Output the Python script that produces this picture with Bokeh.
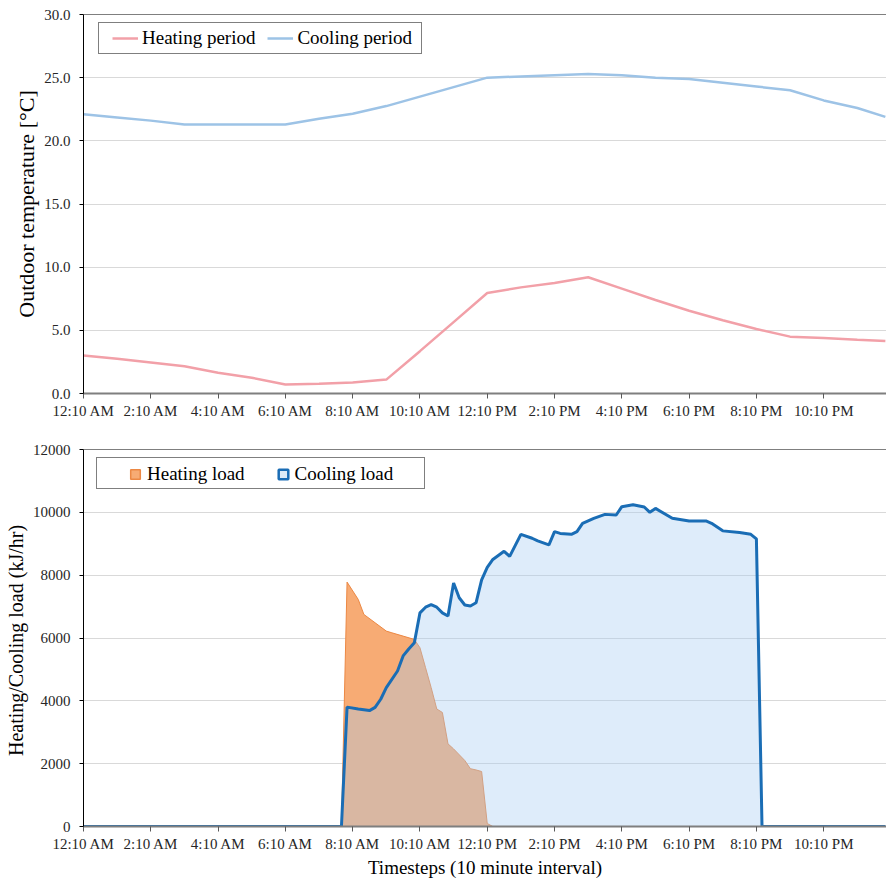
from bokeh.plotting import figure
from bokeh.layouts import column
from bokeh.models import (FixedTicker, NumeralTickFormatter, Legend, LegendItem,
                          Span, Range1d)
from bokeh.embed import file_html
from bokeh.resources import INLINE

# ---------------- data ----------------
tick_steps = [0, 12, 24, 36, 48, 60, 72, 84, 96, 108, 120, 132]
tick_labels = ["12:10 AM", "2:10 AM", "4:10 AM", "6:10 AM", "8:10 AM", "10:10 AM",
               "12:10 PM", "2:10 PM", "4:10 PM", "6:10 PM", "8:10 PM", "10:10 PM"]

temp_steps = [0, 6, 12, 18, 24, 30, 36, 42, 48, 54, 60, 66, 72, 78, 84, 90, 96,
              102, 108, 114, 120, 126, 132, 138, 143]
heating_period = [3.0, 2.75, 2.45, 2.15, 1.65, 1.25, 0.72, 0.78, 0.88, 1.1, 3.35,
                  5.65, 7.95, 8.4, 8.75, 9.2, 8.3, 7.4, 6.55, 5.8, 5.1, 4.5, 4.4,
                  4.25, 4.15]
cooling_period = [22.1, 21.85, 21.6, 21.3, 21.3, 21.3, 21.3, 21.75, 22.15, 22.75,
                  23.5, 24.25, 25.0, 25.1, 25.2, 25.3, 25.2, 25.0, 24.9, 24.6,
                  24.3, 24.0, 23.2, 22.6, 21.9]

cool_steps = [0, 46, 47, 49, 51, 52, 53, 54, 56, 57, 58, 59, 60, 61, 62, 63, 64,
              65, 66, 67, 68, 69, 70, 71, 72, 73, 75, 76, 78, 80, 81, 83, 84, 85,
              87, 88, 89, 91, 93, 95, 96, 98, 100, 101, 102, 105, 108, 111, 112,
              114, 117, 119, 120, 121, 143]
cooling_load = [0, 0, 3800, 3740, 3690, 3790, 4050, 4420, 4950, 5430, 5650, 5850,
                6800, 6980, 7060, 6980, 6800, 6700, 7750, 7280, 7050, 7020, 7120,
                7850, 8250, 8500, 8760, 8600, 9300, 9175, 9090, 8965, 9385, 9330,
                9300, 9385, 9650, 9810, 9935, 9915, 10180, 10240, 10170, 10000,
                10125, 9810, 9725, 9725, 9650, 9410, 9355, 9300, 9155, 0, 0]

heat_steps = [0, 46, 47, 49, 50, 52, 54, 55, 57, 59, 60, 61, 62, 63, 64, 65, 66,
              68, 69, 70, 71, 72, 73, 143]
heating_load = [0, 0, 7780, 7225, 6750, 6485, 6220, 6165, 6060, 5955, 5690, 5055,
                4420, 3740, 3630, 2630, 2470, 2100, 1840, 1800, 1750, 95, 0, 0]

# ---------------- styles ----------------
FONT = "Liberation Serif"
PINK = "#F2A0A8"
LIGHTBLUE = "#9DC3E6"
HEAT_FILL = "#F7AB74"
HEAT_EDGE = "#EC8844"
COOL_FILL = "#A5CBF1"
COOL_LINE = "#1A6DB5"
GRID = "#D9D9D9"
TEXT = "#262626"


def style(p, yticks, yfmt=None):
    p.xaxis.ticker = FixedTicker(ticks=tick_steps)
    p.xaxis.major_label_overrides = {s: l for s, l in zip(tick_steps, tick_labels)}
    p.yaxis.ticker = FixedTicker(ticks=yticks)
    if yfmt:
        p.yaxis.formatter = NumeralTickFormatter(format=yfmt)
    p.xgrid.visible = False
    p.ygrid.ticker = FixedTicker(ticks=yticks)
    p.ygrid.grid_line_color = GRID
    p.ygrid.grid_line_width = 1
    for ax in (p.xaxis, p.yaxis):
        ax.major_label_text_font = FONT
        ax.major_label_text_color = TEXT
        ax.major_label_text_font_size = "15px"
        ax.axis_label_text_font = FONT
        ax.axis_label_text_font_style = "normal"
        ax.axis_label_text_color = "black"
        ax.minor_tick_line_color = None
        ax.major_tick_in = 0
    p.xaxis.axis_line_color = "#7F7F7F"
    p.xaxis.axis_line_width = 2
    p.xaxis.major_tick_line_color = "#595959"
    p.xaxis.major_tick_out = 5
    p.xaxis.major_label_standoff = 4
    p.yaxis.axis_line_color = "black"
    p.yaxis.axis_line_width = 1
    p.yaxis.major_tick_line_color = "black"
    p.yaxis.major_tick_out = 4
    p.yaxis.major_label_standoff = 9
    p.outline_line_color = None
    p.add_layout(Span(location=yticks[-1], dimension="width", line_color="black",
                      line_width=1))


def legend_frame(p, width, height, loc):
    # an empty legend whose only job is to draw the bordered white box
    dummy = p.scatter(x=[-50], y=[-50000], size=1, fill_alpha=0, line_alpha=0)
    box = Legend(items=[LegendItem(label=" ", renderers=[dummy])],
                 location=loc, orientation="horizontal",
                 border_line_color="black", border_line_width=1,
                 background_fill_color="white", background_fill_alpha=1,
                 label_text_alpha=0, glyph_width=1, glyph_height=height,
                 label_height=height, label_width=width - 1, label_standoff=0,
                 padding=0, margin=0)
    p.add_layout(box)


def legend_items(p, items, loc, glyph_width, glyph_height, standoff, spacing):
    leg = Legend(items=items, orientation="horizontal", location=loc,
                 border_line_color=None, background_fill_alpha=0,
                 label_text_font=FONT, label_text_font_size="19px",
                 label_text_color="black",
                 glyph_width=glyph_width, glyph_height=glyph_height,
                 label_height=glyph_height,
                 label_standoff=standoff, spacing=spacing, padding=0, margin=0)
    p.add_layout(leg)


# ---------------- top chart ----------------
p1 = figure(width=886, height=430, x_range=Range1d(0, 143.2), y_range=Range1d(0, 30),
            output_backend="svg", toolbar_location=None,
            min_border_left=83, min_border_right=0, min_border_top=14,
            min_border_bottom=37)
style(p1, [0, 5, 10, 15, 20, 25, 30], "0.0")
p1.yaxis.axis_label = "Outdoor temperature [°C]"
p1.yaxis.axis_label_text_font_size = "22px"
p1.yaxis.axis_label_standoff = 2

r_h = p1.line(temp_steps, heating_period, line_color=PINK, line_width=2.5)
r_c = p1.line(temp_steps, cooling_period, line_color=LIGHTBLUE, line_width=2.5)

legend_frame(p1, 322, 30, (15, 339))
legend_items(p1, [LegendItem(label="Heating period", renderers=[r_h]),
                  LegendItem(label="Cooling period", renderers=[r_c])],
             (29, 344), 26, 20, 4, 12)

# ---------------- bottom chart ----------------
p2 = figure(width=886, height=451, x_range=Range1d(0, 143.2), y_range=Range1d(0, 12000),
            output_backend="svg", toolbar_location=None,
            min_border_left=83, min_border_right=0, min_border_top=19,
            min_border_bottom=55)
style(p2, [0, 2000, 4000, 6000, 8000, 10000, 12000])
p2.xaxis.axis_label = "Timesteps (10 minute interval)"
p2.xaxis.axis_label_text_font_size = "19px"
p2.xaxis.axis_label_standoff = 2
p2.yaxis.axis_label = "Heating/Cooling  load (kJ/hr)"
p2.yaxis.axis_label_text_font_size = "20px"
p2.yaxis.axis_label_standoff = 3

p2.varea(x=heat_steps, y1=0, y2=heating_load, fill_color=HEAT_FILL, fill_alpha=1.0)
p2.line(heat_steps, heating_load, line_color=HEAT_EDGE, line_width=1)
p2.varea(x=cool_steps, y1=0, y2=cooling_load, fill_color=COOL_FILL, fill_alpha=0.37)
p2.line(cool_steps, cooling_load, line_color=COOL_LINE, line_width=3)

# legend swatches (kept outside the visible ranges)
m_h = p2.scatter(x=[-50], y=[-50000], marker="square", size=11, fill_color=HEAT_FILL,
                 line_color=HEAT_EDGE, line_width=1.5)
m_c = p2.scatter(x=[-50], y=[-50000], marker="square", size=11, fill_color="#DDEBF7",
                 line_color=COOL_LINE, line_width=2.5)

legend_frame(p2, 327, 30, (13, 337))
legend_items(p2, [LegendItem(label="Heating load", renderers=[m_h]),
                  LegendItem(label="Cooling load", renderers=[m_c])],
             (40, 340), 24, 24, 0, 26)

layout = column(p1, p2, spacing=0)
open("out.html", "w").write(file_html(layout, INLINE))
